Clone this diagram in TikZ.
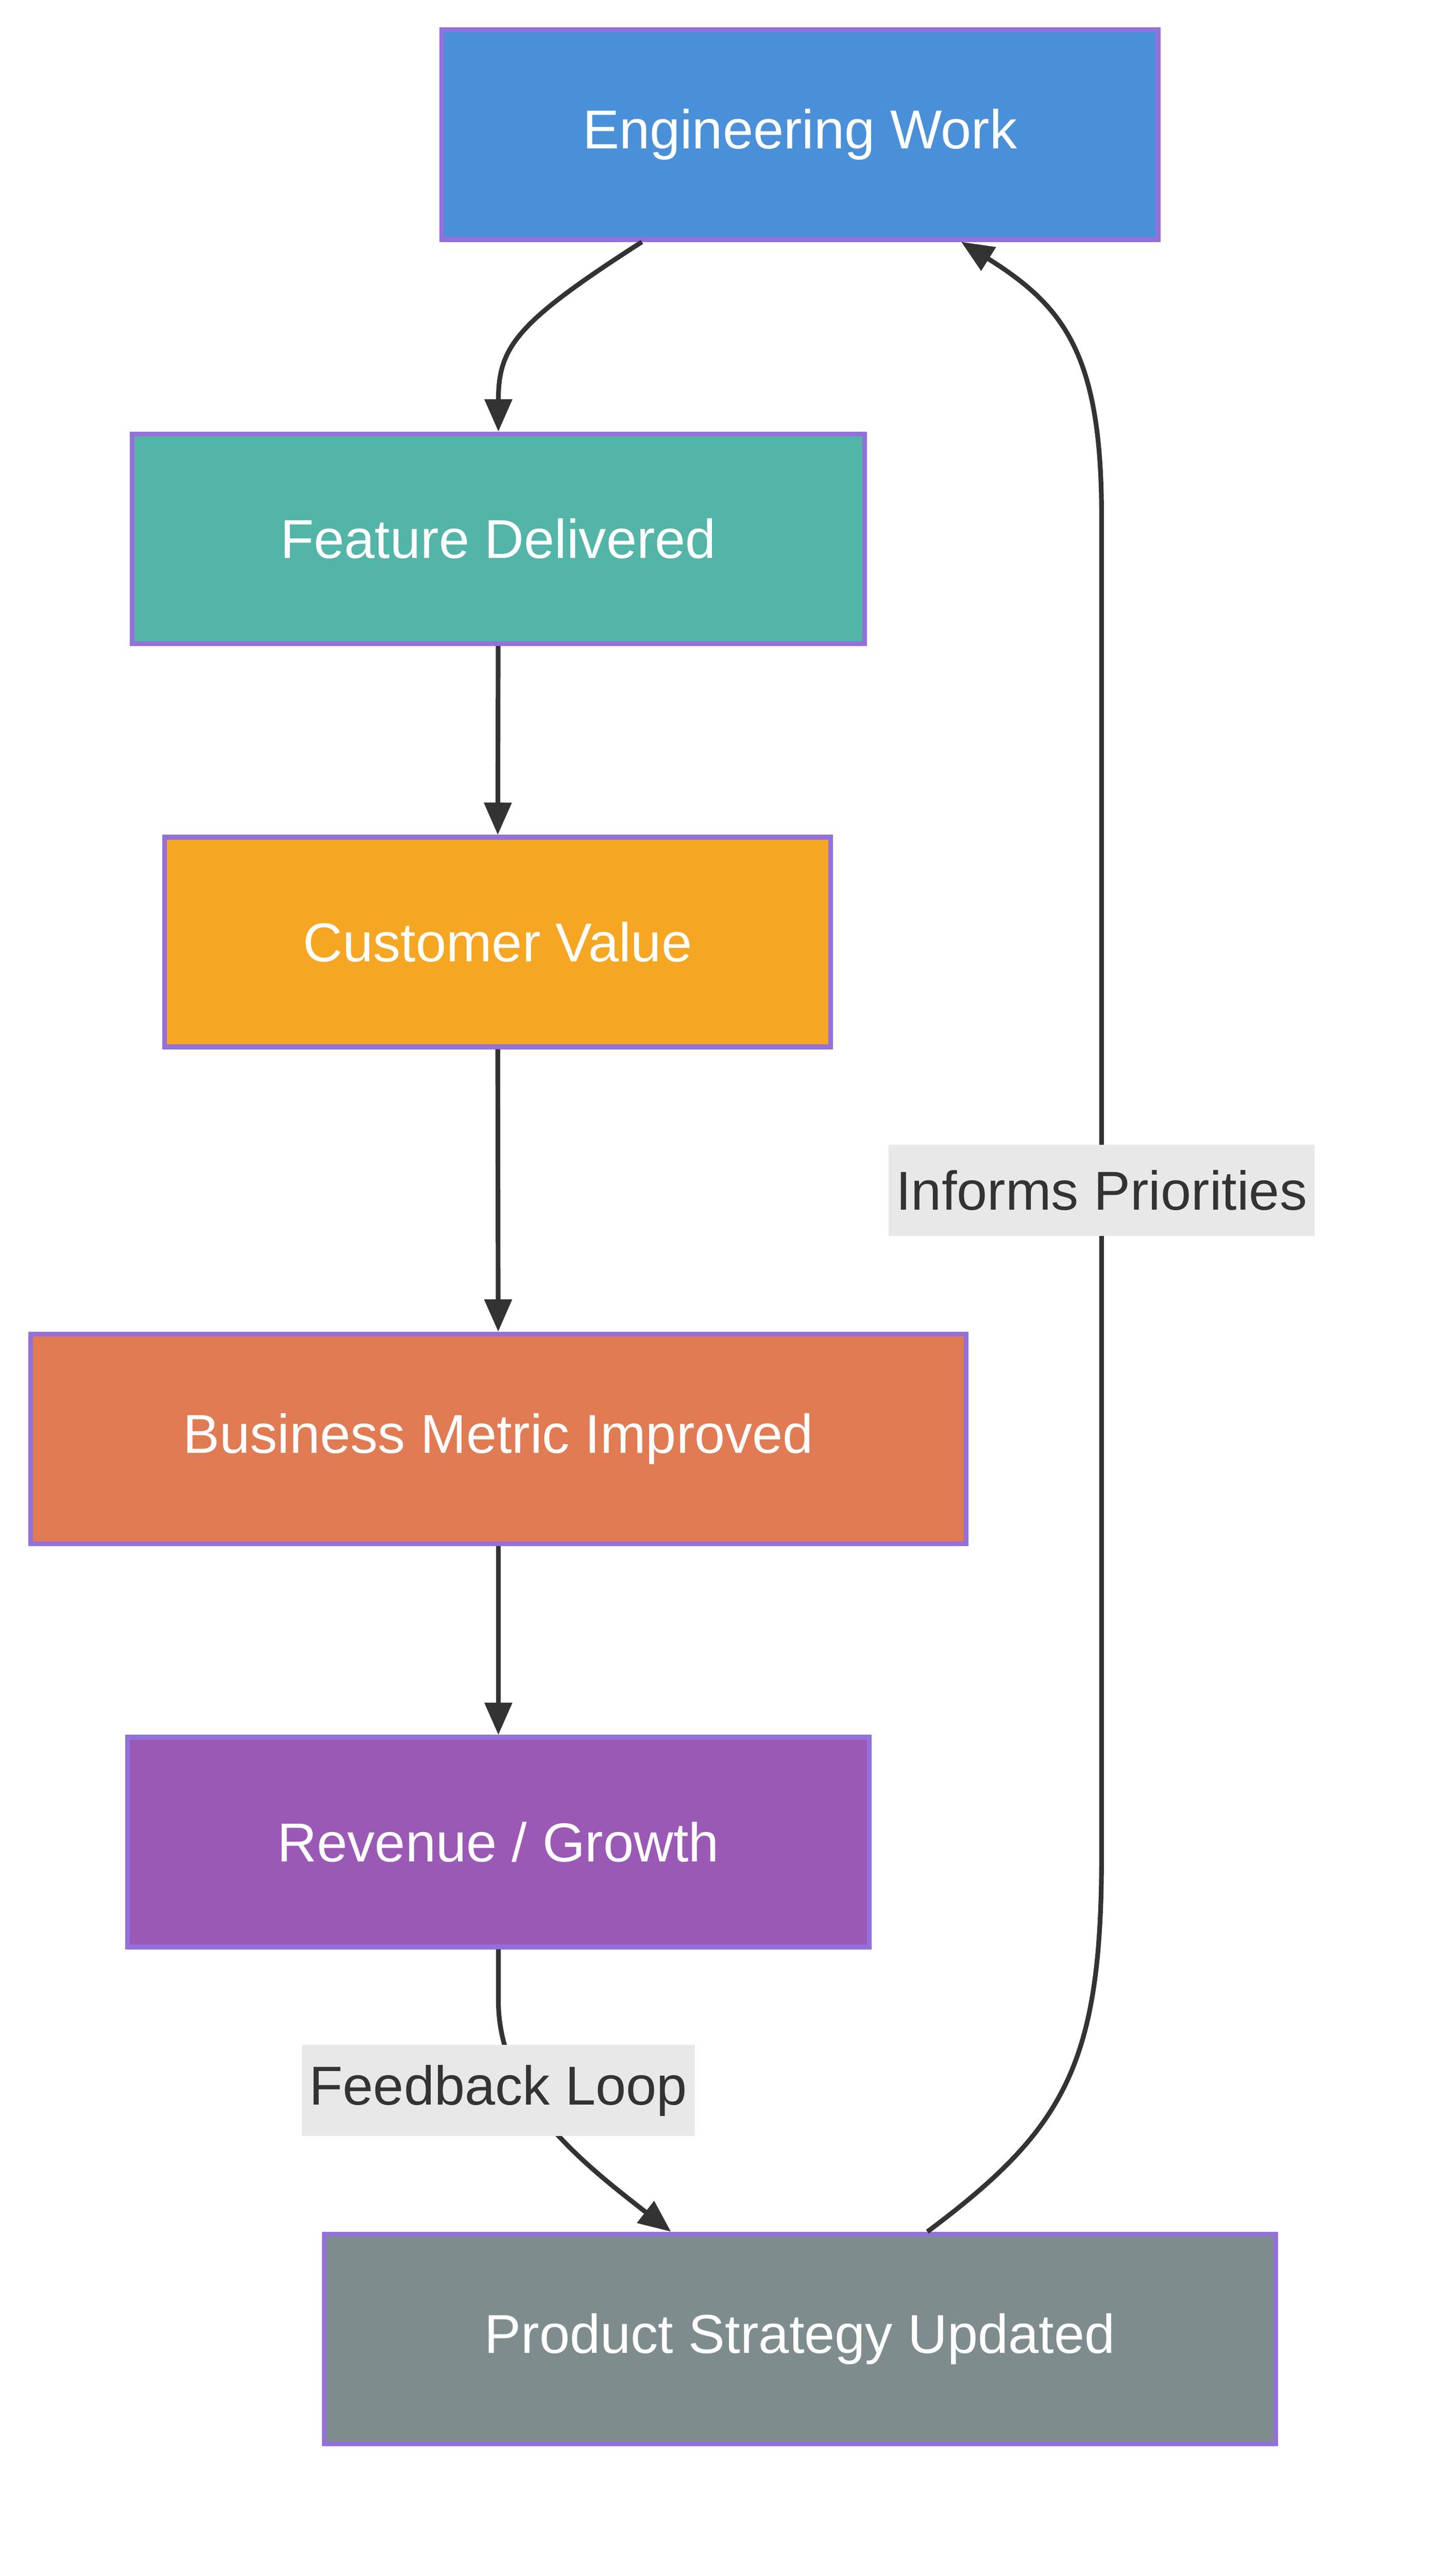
\documentclass[tikz,border=0pt]{standalone}
\usepackage{fontspec}
\setmainfont{Liberation Sans}
\usetikzlibrary{arrows.meta, positioning, calc}
\definecolor{engblue}{HTML}{4A90D9}
\definecolor{featteal}{HTML}{52B5A8}
\definecolor{custorange}{HTML}{F5A623}
\definecolor{bizcoral}{HTML}{E07B53}
\definecolor{revpurple}{HTML}{9B59B6}
\definecolor{prodgray}{HTML}{7F8C8D}
\definecolor{edgepurple}{HTML}{9370DB}
\definecolor{linkgray}{HTML}{333333}
\definecolor{labelbg}{HTML}{E8E8E8}

\begin{document}
\begin{tikzpicture}[
    x=0.03cm, y=-0.03cm,
    every node/.style={font=\fontsize{29}{34}\selectfont},
    flowbox/.style={
        rectangle,
        draw=edgepurple,
        line width=2.5pt,
        minimum height=3.9cm,
        text=white,
        inner sep=0pt
    },
    link/.style={
        -{Triangle[length=0.6cm, width=0.5cm]},
        line width=2.5pt,
        draw=linkgray
    },
    linklabel/.style={
        fill=labelbg,
        text=linkgray,
        inner sep=4pt,
        minimum height=1.7cm
    }
]
\useasboundingbox (0,0) rectangle (886,1597);

% Steps
\node[flowbox, fill=engblue, minimum width=13.32cm] (eng) at (496,83.5) {Engineering Work};
\node[flowbox, fill=featteal, minimum width=13.62cm] (feat) at (309,334) {Feature Delivered};
\node[flowbox, fill=custorange, minimum width=12.39cm] (cust) at (308.5,584) {Customer Value};
\node[flowbox, fill=bizcoral, minimum width=17.4cm] (biz) at (309,892) {Business Metric Improved};
\node[flowbox, fill=revpurple, minimum width=13.8cm] (rev) at (309,1142) {Revenue / Growth};
\node[flowbox, fill=prodgray, minimum width=17.7cm] (prod) at (496,1450) {Product Strategy Updated};

% Links
\draw[link] ($(eng.south)+(-98,0)$) .. controls (320,200) and (309,215) .. (feat.north);
\draw[link] (feat) -- (cust);
\draw[link] (cust) -- (biz);
\draw[link] (biz) -- (rev);
\draw[link] (rev.south) -- (309,1240) .. controls (309,1300) and (360,1340) .. ($(prod.north)+(-80,0)$);
\draw[link] ($(prod.north)+(79,0)$) .. controls (660,1320) and (683,1280) .. (683,1150)
    -- (683,320) .. controls (683,220) and (660,190) .. ($(eng.south)+(100,0)$);

% Labels
\node[linklabel] (fb) at (309,1296) {Feedback Loop};
\node[linklabel] (inf) at (683,738) {Informs Priorities};
\end{tikzpicture}
\end{document}
